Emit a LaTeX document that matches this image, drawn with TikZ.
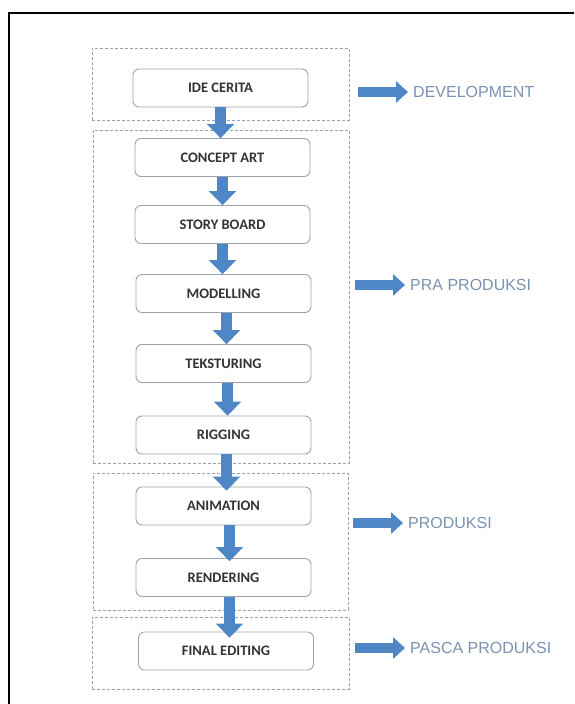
\documentclass[tikz,border=0pt]{standalone}
\usepackage{fontspec}
\setmainfont{Carlito}
\newfontfamily\phasefont{Liberation Sans}
\usepackage{xcolor}
\usetikzlibrary{arrows.meta, positioning, calc}

\definecolor{arrowblue}{HTML}{4F86C6}
\definecolor{phasegray}{HTML}{7A92B0}
\definecolor{groupline}{HTML}{93A3B5}
\definecolor{boxline}{HTML}{9AA3AD}
\definecolor{boxtext}{HTML}{333333}

\begin{document}
\begin{tikzpicture}[x=1pt, y=-1pt,
        every node/.style = {font=\bfseries\fontsize{14.5}{16}\selectfont},
        stagebox/.style = {draw=boxline, line width=0.9pt, rounded corners=6pt, fill=white,
                           minimum width=175pt, minimum height=38pt, text=boxtext},
        groupbox/.style = {draw=groupline, dashed, line width=0.7pt, dash pattern=on 3pt off 2pt},
        phaselabel/.style = {anchor=west, inner sep=5pt, text=phasegray,
                             font=\phasefont\fontsize{16}{18}\selectfont},
        downarrow/.style = {draw=arrowblue, line width=11pt,
                            -{Triangle[width=27pt, length=14pt, fill=arrowblue]}},
        sidearrow/.style = {draw=arrowblue, line width=10pt,
                            -{Triangle[width=21pt, length=12pt, fill=arrowblue]}}]
        \useasboundingbox (0,0) rectangle (574,704);

        % outer frame
        \draw[line width=1.4pt] (9,704) -- (9,13) -- (574,13);

        % phase groups
        \node[groupbox, minimum width=257pt, minimum height=72pt] (Gdev) at (220.5, 84) {};
        \node[groupbox, minimum width=256pt, minimum height=333pt] (Gpra) at (221, 296.5) {};
        \node[groupbox, minimum width=255pt, minimum height=137pt] (Gprod) at (220.5, 541.5) {};
        \node[groupbox, minimum width=257pt, minimum height=72pt] (Gpasca) at (220.5, 653) {};

        % stages
        \node[stagebox] (Nide) at (220.5, 88) {IDE CERITA};
        \node[stagebox] (Nconcept) at (222.5, 157.5) {CONCEPT ART};
        \node[stagebox] (Nstory) at (222.5, 224.5) {STORY BOARD};
        \node[stagebox] (Nmodel) at (223.5, 293.5) {MODELLING};
        \node[stagebox] (Ntekstur) at (223.5, 363.5) {TEKSTURING};
        \node[stagebox] (Nrig) at (223.5, 435) {RIGGING};
        \node[stagebox] (Nanim) at (223.5, 506) {ANIMATION};
        \node[stagebox] (Nrender) at (223.5, 577.5) {RENDERING};
        \node[stagebox] (Nfinal) at (226, 651) {FINAL EDITING};

        \draw[downarrow] (Nide.south) -- (Nide.south |- Nconcept.north);
        \draw[downarrow] (Nconcept.south) -- (Nconcept.south |- Nstory.north);
        \draw[downarrow] (Nstory.south) -- (Nstory.south |- Nmodel.north);
        \draw[downarrow] ([xshift=3pt]Nmodel.south) -- ([xshift=3pt]Nmodel.south |- Ntekstur.north);
        \draw[downarrow] ([xshift=4pt]Ntekstur.south) -- ([xshift=4pt]Ntekstur.south |- Nrig.north);
        \draw[downarrow] ([xshift=3pt]Nrig.south) -- ([xshift=3pt,yshift=-4pt]Nrig.south |- Nanim.north);
        \draw[downarrow] ([xshift=6pt]Nanim.south) -- ([xshift=6pt,yshift=-3pt]Nanim.south |- Nrender.north);
        \draw[downarrow] ([xshift=6pt]Nrender.south) -- ([xshift=6pt,yshift=-6pt]Nrender.south |- Nfinal.north);

        % phase labels
        \node[phaselabel] (Ldev) at (408, 92) {DEVELOPMENT};
        \node[phaselabel] (Lpra) at (405, 285) {PRA PRODUKSI};
        \node[phaselabel] (Lprod) at (403, 523) {PRODUKSI};
        \node[phaselabel] (Lpasca) at (405, 648) {PASCA PRODUKSI};

        \coordinate (Sdev) at (358, 92);
        \coordinate (Spra) at (355, 285);
        \coordinate (Sprod) at (353, 523);
        \coordinate (Spasca) at (355, 648);

        \draw[sidearrow] (Sdev) -- (Ldev.west);
        \draw[sidearrow] (Spra) -- (Lpra.west);
        \draw[sidearrow] (Sprod) -- (Lprod.west);
        \draw[sidearrow] (Spasca) -- (Lpasca.west);
    \end{tikzpicture}
\end{document}
